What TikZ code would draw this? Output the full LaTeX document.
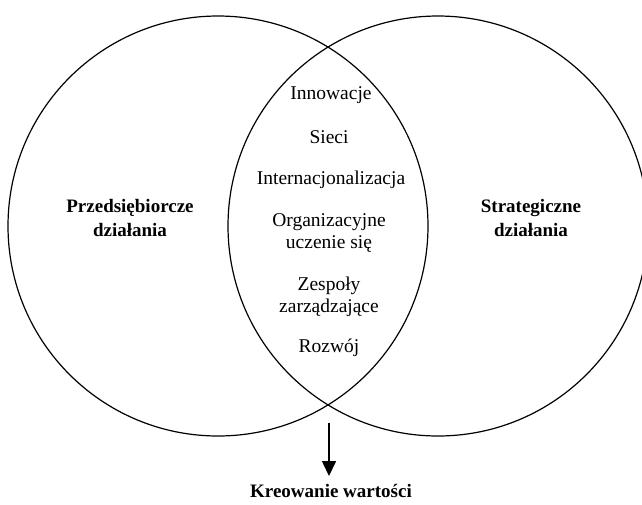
\documentclass[tikz,border=0pt]{standalone}
\usepackage{fontspec}
\setmainfont{Liberation Serif}
\usetikzlibrary{arrows.meta}
\begin{document}
\begin{tikzpicture}[x=1pt,y=-1pt,
  ring/.style={draw=black,line width=1.2pt},
  item/.style={font=\fontsize{19.5}{21.5}\selectfont,align=center,inner sep=0pt},
  head/.style={font=\fontsize{19}{23.5}\selectfont\bfseries,align=center,inner sep=0pt},
  flow/.style={line width=1.6pt,shorten >=8pt,-{Triangle[width=14pt,length=15pt]}}]
  \useasboundingbox (0,0) rectangle (642,504);
  \clip (0,0) rectangle (642,504);
  % the two overlapping circles
  \draw[ring] (218,226) circle[radius=210];
  \draw[ring] (438,226) circle[radius=210];
  % side labels
  \node[head] (left) at (130,218) {Przedsiębiorcze\\działania};
  \node[head] (right) at (531,218) {Strategiczne\\działania};
  % items in the overlap
  \node[item] (i1) at (331,95) {Innowacje};
  \node[item] (i2) at (329,137) {Sieci};
  \node[item] (i3) at (331,180) {Internacjonalizacja};
  \node[item] (i4) at (329,233) {Organizacyjne\\uczenie się};
  \node[item] (i5) at (329,297) {Zespoły\\zarządzające};
  \node[item] (i6) at (329,348) {Rozwój};
  % outcome
  \node[head,anchor=north] (out) at (331,484) {Kreowanie wartości};
  \coordinate (src) at (329,423);
  \draw[flow] (src) -- (src |- out.north);
\end{tikzpicture}
\end{document}
